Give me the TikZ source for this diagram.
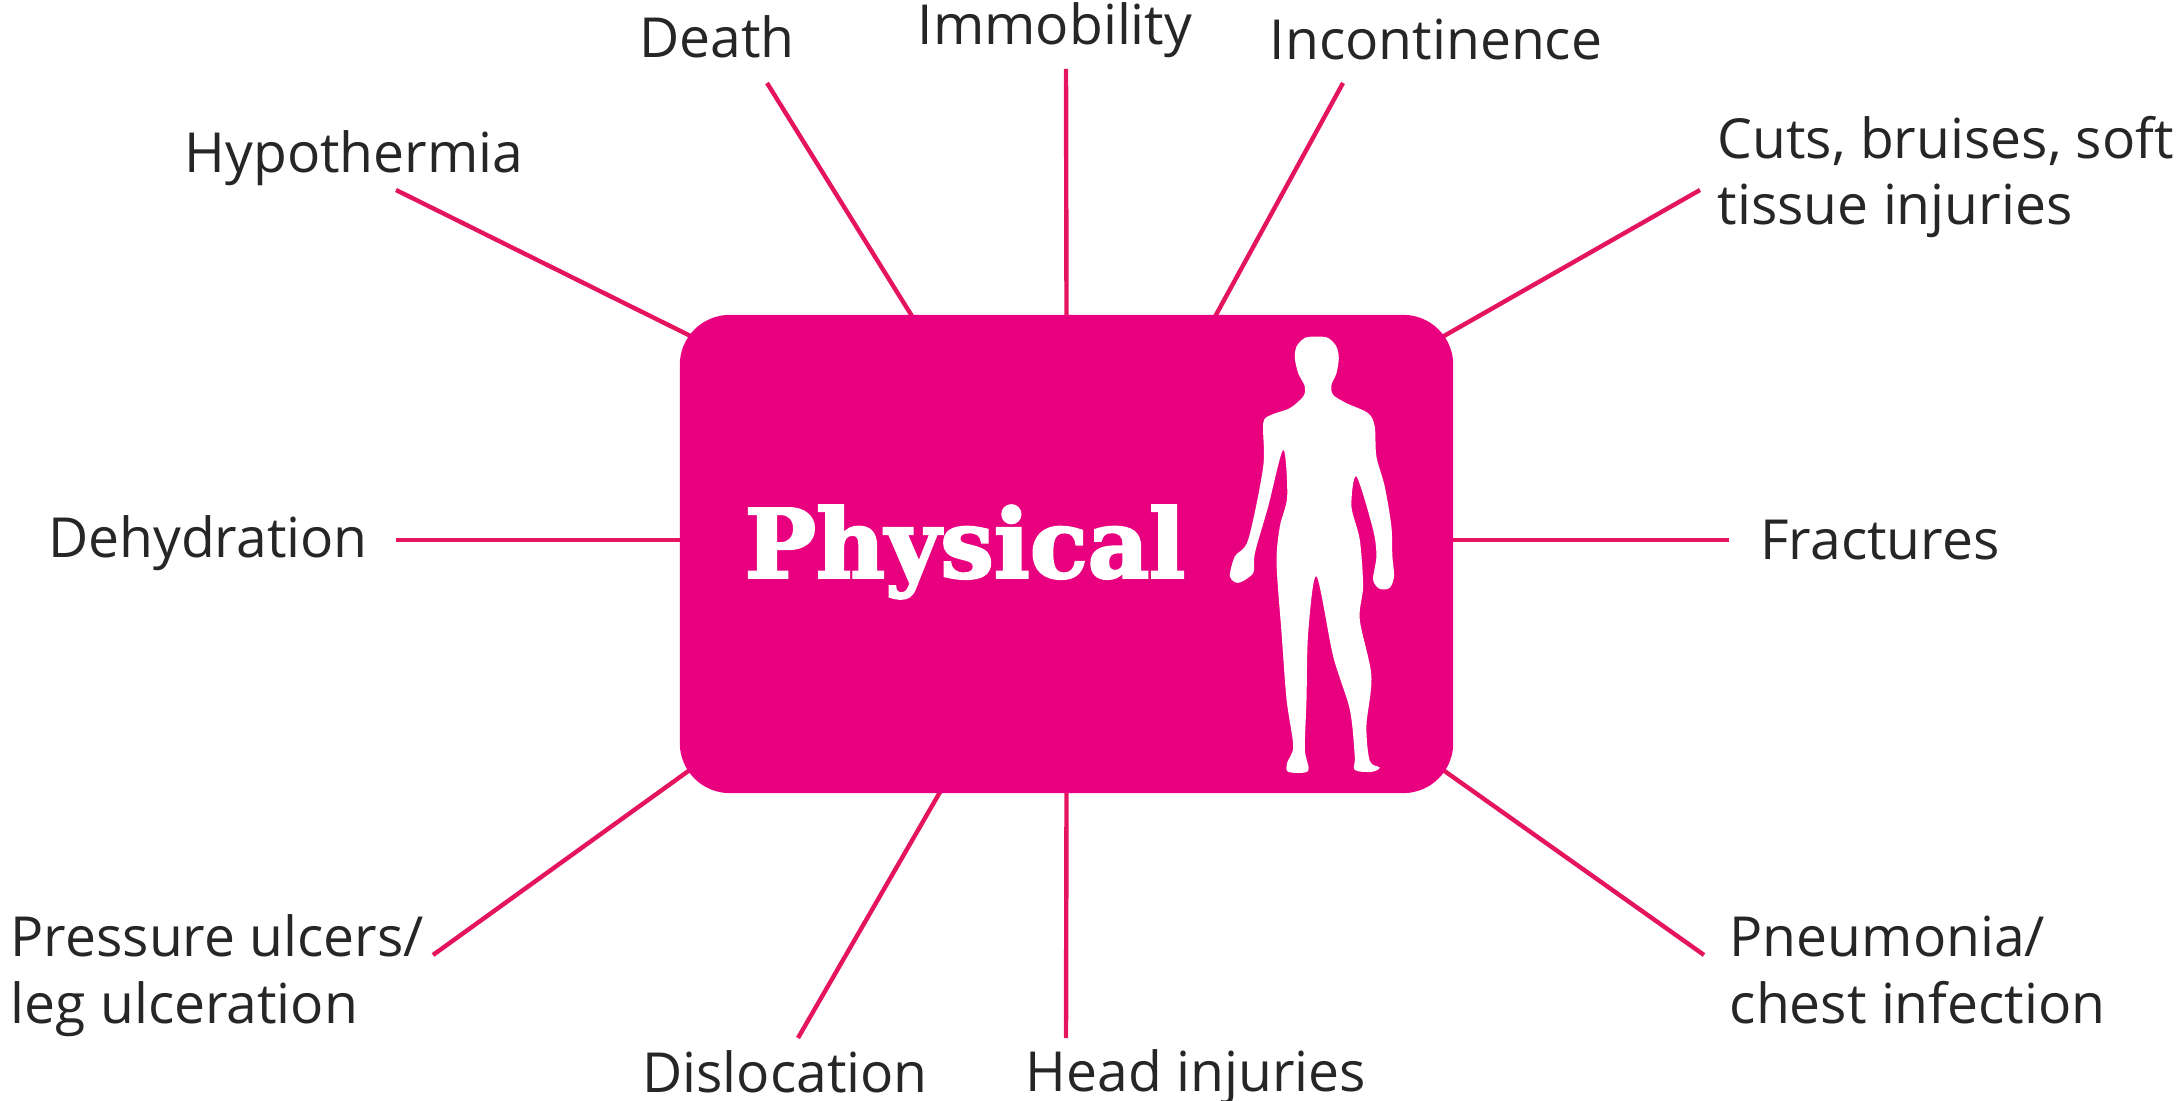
\documentclass[tikz,border=0pt]{standalone}
\usepackage{fontspec}
\setmainfont{Open Sans}[Ligatures=NoCommon]
\newfontfamily\slabfont{DejaVu Serif}[BoldFeatures={FakeBold=2.6}]
\usetikzlibrary{backgrounds}
\definecolor{boxpink}{HTML}{E9007F}
\definecolor{spokepink}{HTML}{E5145F}

\begin{document}
\begin{tikzpicture}[x=.01cm, y=-.01cm, every node/.style={text=black!85}]
  \useasboundingbox (0,0) rectangle (2176,1101);
  \tikzset{harm/.style={font=\fontsize{15.7}{19}\selectfont, inner sep=0pt, align=left},
           spoke/.style={draw=spokepink, line width=1.25pt, shorten >=-9pt}}

  \node[fill=boxpink, rounded corners=.5cm, minimum width=7.73cm, minimum height=4.78cm,
        inner sep=0pt] (box) at (1066.5,554) {};
  \node[font=\slabfont\bfseries\fontsize{27}{30}\selectfont, text=white, inner sep=0pt] (title) at (965,552) {Physical};

  % The figure is traced from a 3x crop, so its numbers are crop pixels.
  \begin{scope}[shift={(1200,300)}, x=.00333cm, y=-.00333cm]
    \fill[white] plot[smooth cycle, tension=.5] coordinates {
      (350,110) (385,114) (410,140) (417,175) (410,220) (395,255) (400,285) (440,310) (505,340)
      (525,380) (530,470) (555,560) (575,680) (578,770) (583,830) (570,865) (540,868)
      (520,840) (530,770) (520,690) (470,530) (455,620) (480,720) (490,860) (480,960)
      (515,1130) (500,1280) (510,1385) (540,1405) (515,1418) (465,1412) (465,1370)
      (450,1230) (400,1070) (350,830) (325,1000) (320,1200) (315,1350) (325,1415)
      (265,1418) (262,1390) (280,1340) (260,1200) (245,1000) (230,790) (240,680)
      (262,590) (250,450) (205,620) (165,760) (160,820) (115,850) (90,830) (105,770)
      (145,720) (190,500) (190,370) (215,345) (270,325) (310,290) (315,260) (295,220)
      (285,175) (290,140) (315,114)};
  \end{scope}

  \node[harm] (hypothermia) at (354,158) {Hypothermia};
  \node[harm] (death) at (717,37) {Death};
  \node[harm] (immobility) at (1055,30) {Immobility};
  \node[harm] (incontinence) at (1436,40) {Incontinence};
  \node[harm, anchor=west] (cuts) at (1717,177) {Cuts, bruises, soft\\tissue injuries};
  \node[harm] (dehydration) at (208,543) {Dehydration};
  \node[harm] (fractures) at (1880,540) {Fractures};
  \node[harm, anchor=west] (pressure) at (10,976) {Pressure ulcers/\\leg ulceration};
  \node[harm, anchor=west] (pneumonia) at (1729,970) {Pneumonia/\\chest infection};
  \node[harm] (dislocation) at (785,1072) {Dislocation};
  \node[harm] (head) at (1196,1077) {Head injuries};

  \coordinate (endHypothermia) at (396,190);
  \coordinate (endDeath) at (767,83);
  \coordinate (endImmobility) at (1066,69);
  \coordinate (endIncontinence) at (1343,83);
  \coordinate (endCuts) at (1700,190);
  \coordinate (endDehydration) at (396,540);
  \coordinate (endFractures) at (1729,540);
  \coordinate (endPressure) at (433,955);
  \coordinate (endPneumonia) at (1704,955);
  \coordinate (endDislocation) at (798,1038);
  \coordinate (endHead) at (1066,1038);

  \begin{pgfonlayer}{background}
    \draw[spoke] (endHypothermia) -- (box.150.5);
    \draw[spoke] (endDeath) -- (box.123.3);
    \draw[spoke] (endImmobility) -- (box.north);
    \draw[spoke] (endIncontinence) -- (box.58.6);
    \draw[spoke] (endCuts) -- (box.30.6);
    \draw[spoke] (endDehydration) -- (endDehydration -| box.west);
    \draw[spoke] (endFractures) -- (endFractures -| box.east);
    \draw[spoke] (endPressure) -- (box.210.7);
    \draw[spoke] (endPneumonia) -- (box.-30.5);
    \draw[spoke] (endDislocation) -- (box.242.2);
    \draw[spoke] (endHead) -- (box.south);
  \end{pgfonlayer}
\end{tikzpicture}
\end{document}
